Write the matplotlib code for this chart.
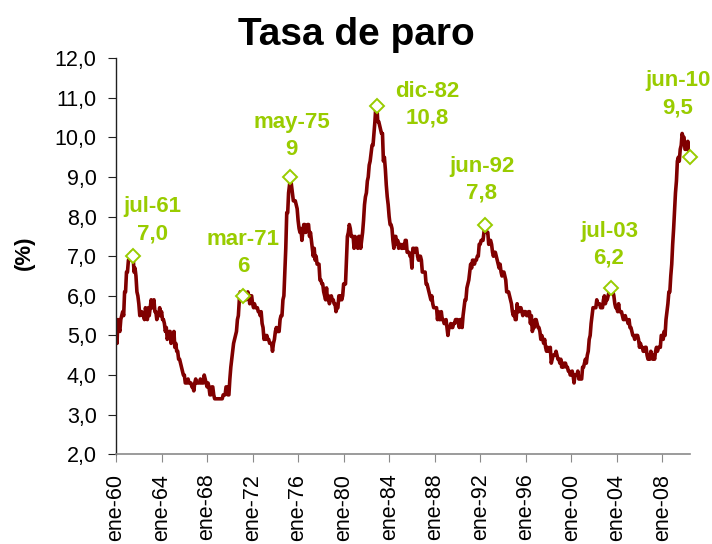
import matplotlib
matplotlib.use('Agg')
import matplotlib.pyplot as plt
import pandas as pd
from matplotlib.ticker import FixedLocator, FuncFormatter

plt.rcParams['font.family'] = ['Liberation Sans', 'DejaVu Sans']

# monthly unemployment rate (%), ene-60 .. jun-10, one row per year
rate = [
    5.2, 4.8, 5.4, 5.2, 5.1, 5.4, 5.5, 5.6, 5.5, 6.1, 6.1, 6.6,   # 1960
    6.6, 6.9, 6.9, 7.0, 7.1, 6.9, 7.0, 6.6, 6.7, 6.5, 6.1, 6.0,   # 1961
    5.8, 5.5, 5.6, 5.6, 5.5, 5.5, 5.4, 5.7, 5.6, 5.4, 5.7, 5.5,   # 1962
    5.7, 5.9, 5.7, 5.7, 5.9, 5.6, 5.6, 5.4, 5.5, 5.5, 5.7, 5.5,   # 1963
    5.6, 5.4, 5.4, 5.3, 5.1, 5.2, 4.9, 5.0, 5.1, 5.1, 4.8, 5.0,   # 1964
    4.9, 5.1, 4.7, 4.8, 4.6, 4.6, 4.4, 4.4, 4.3, 4.2, 4.1, 4.0,   # 1965
    4.0, 3.8, 3.8, 3.8, 3.9, 3.8, 3.8, 3.8, 3.7, 3.7, 3.6, 3.8,   # 1966
    3.9, 3.8, 3.8, 3.8, 3.8, 3.9, 3.8, 3.8, 3.8, 4.0, 3.9, 3.8,   # 1967
    3.7, 3.8, 3.7, 3.5, 3.5, 3.7, 3.7, 3.5, 3.4, 3.4, 3.4, 3.4,   # 1968
    3.4, 3.4, 3.4, 3.4, 3.4, 3.5, 3.5, 3.5, 3.7, 3.7, 3.5, 3.5,   # 1969
    3.9, 4.2, 4.4, 4.6, 4.8, 4.9, 5.0, 5.1, 5.4, 5.5, 5.9, 6.1,   # 1970
    5.9, 5.9, 6.0, 5.9, 5.9, 5.9, 6.0, 6.1, 6.0, 5.8, 6.0, 6.0,   # 1971
    5.8, 5.7, 5.8, 5.7, 5.7, 5.7, 5.6, 5.6, 5.5, 5.6, 5.3, 5.2,   # 1972
    4.9, 5.0, 4.9, 5.0, 4.9, 4.9, 4.8, 4.8, 4.8, 4.6, 4.8, 4.9,   # 1973
    5.1, 5.2, 5.1, 5.1, 5.1, 5.4, 5.5, 5.5, 5.9, 6.0, 6.6, 7.2,   # 1974
    8.1, 8.1, 8.6, 8.8, 9.0, 8.8, 8.6, 8.4, 8.4, 8.4, 8.3, 8.2,   # 1975
    7.9, 7.7, 7.6, 7.7, 7.4, 7.6, 7.8, 7.8, 7.6, 7.7, 7.8, 7.8,   # 1976
    7.5, 7.6, 7.4, 7.2, 7.0, 7.2, 6.9, 7.0, 6.8, 6.8, 6.8, 6.4,   # 1977
    6.4, 6.3, 6.3, 6.1, 6.0, 5.9, 6.2, 5.9, 6.0, 5.8, 5.9, 6.0,   # 1978
    5.9, 5.9, 5.8, 5.8, 5.6, 5.7, 5.7, 6.0, 5.9, 6.0, 5.9, 6.0,   # 1979
    6.3, 6.3, 6.3, 6.9, 7.5, 7.6, 7.8, 7.7, 7.5, 7.5, 7.5, 7.2,   # 1980
    7.5, 7.4, 7.4, 7.2, 7.5, 7.5, 7.2, 7.4, 7.6, 7.9, 8.3, 8.5,   # 1981
    8.6, 8.9, 9.0, 9.3, 9.4, 9.6, 9.8, 9.8, 10.1, 10.4, 10.8, 10.8,  # 1982
    10.4, 10.4, 10.3, 10.2, 10.1, 10.1, 9.4, 9.5, 9.2, 8.8, 8.5, 8.3,  # 1983
    8.0, 7.8, 7.8, 7.7, 7.4, 7.2, 7.5, 7.5, 7.3, 7.4, 7.2, 7.3,   # 1984
    7.3, 7.2, 7.2, 7.3, 7.2, 7.4, 7.4, 7.1, 7.1, 7.1, 7.0, 7.0,   # 1985
    6.7, 7.2, 7.2, 7.1, 7.2, 7.2, 7.0, 6.9, 7.0, 7.0, 6.9, 6.6,   # 1986
    6.6, 6.6, 6.6, 6.3, 6.3, 6.2, 6.1, 6.0, 5.9, 6.0, 5.8, 5.7,   # 1987
    5.7, 5.7, 5.7, 5.4, 5.6, 5.4, 5.4, 5.6, 5.4, 5.4, 5.3, 5.3,   # 1988
    5.4, 5.2, 5.0, 5.2, 5.2, 5.3, 5.2, 5.2, 5.3, 5.3, 5.4, 5.4,   # 1989
    5.4, 5.3, 5.2, 5.4, 5.4, 5.2, 5.5, 5.7, 5.9, 5.9, 6.2, 6.3,   # 1990
    6.4, 6.6, 6.8, 6.7, 6.9, 6.9, 6.8, 6.9, 6.9, 7.0, 7.0, 7.3,   # 1991
    7.3, 7.4, 7.4, 7.4, 7.6, 7.8, 7.7, 7.6, 7.6, 7.3, 7.4, 7.4,   # 1992
    7.3, 7.1, 7.0, 7.1, 7.1, 7.0, 6.9, 6.8, 6.7, 6.8, 6.6, 6.5,   # 1993
    6.6, 6.6, 6.5, 6.4, 6.1, 6.1, 6.1, 6.0, 5.9, 5.8, 5.6, 5.5,   # 1994
    5.6, 5.4, 5.4, 5.8, 5.6, 5.6, 5.7, 5.7, 5.6, 5.5, 5.6, 5.6,   # 1995
    5.6, 5.5, 5.5, 5.6, 5.6, 5.3, 5.5, 5.1, 5.2, 5.2, 5.4, 5.4,   # 1996
    5.3, 5.2, 5.2, 5.1, 4.9, 5.0, 4.9, 4.8, 4.9, 4.7, 4.6, 4.7,   # 1997
    4.6, 4.6, 4.7, 4.3, 4.4, 4.5, 4.5, 4.5, 4.6, 4.5, 4.4, 4.4,   # 1998
    4.3, 4.4, 4.2, 4.3, 4.2, 4.3, 4.3, 4.2, 4.2, 4.1, 4.1, 4.0,   # 1999
    4.0, 4.1, 4.0, 3.8, 4.0, 4.0, 4.0, 4.1, 3.9, 3.9, 3.9, 3.9,   # 2000
    4.2, 4.2, 4.3, 4.4, 4.3, 4.5, 4.6, 4.9, 5.0, 5.3, 5.5, 5.7,   # 2001
    5.7, 5.7, 5.7, 5.9, 5.8, 5.8, 5.8, 5.7, 5.7, 5.7, 5.9, 6.0,   # 2002
    5.8, 5.9, 5.9, 6.0, 6.1, 6.3, 6.2, 6.1, 6.1, 6.0, 5.8, 5.7,   # 2003
    5.7, 5.6, 5.8, 5.6, 5.6, 5.6, 5.5, 5.4, 5.4, 5.5, 5.4, 5.4,   # 2004
    5.3, 5.4, 5.2, 5.2, 5.1, 5.0, 5.0, 4.9, 5.0, 5.0, 5.0, 4.9,   # 2005
    4.7, 4.8, 4.7, 4.7, 4.6, 4.6, 4.7, 4.7, 4.5, 4.4, 4.5, 4.4,   # 2006
    4.6, 4.5, 4.4, 4.5, 4.4, 4.6, 4.7, 4.6, 4.7, 4.7, 4.7, 5.0,   # 2007
    5.0, 4.9, 5.1, 5.0, 5.4, 5.6, 5.8, 6.1, 6.1, 6.5, 6.8, 7.3,   # 2008
    7.7, 8.2, 8.6, 8.9, 9.4, 9.5, 9.4, 9.7, 9.8, 10.1, 10.0, 10.0,  # 2009
    9.7, 9.7, 9.7, 9.9, 9.7, 9.5,                                 # 2010
]

# highlighted values
peak_dates = ['1961-07', '1971-03', '1975-05', '1982-12', '1992-06', '2003-07', '2010-06']
peak_names = ['jul-61', 'mar-71', 'may-75', 'dic-82', 'jun-92', 'jul-03', 'jun-10']
peak_values = [7.0, 6.0, 9.0, 10.8, 7.8, 6.2, 9.5]
peak_text = ['7,0', '6', '9', '10,8', '7,8', '6,2', '9,5']

tick_years = list(range(1960, 2009, 4))
month_abbr = 'ene'

DARK_RED = '#800000'
GREEN = '#99CC00'

dates = pd.date_range('1960-01-01', periods=len(rate), freq='MS')

fig = plt.figure(figsize=(7.12, 5.44), dpi=100)
ax = fig.add_axes([0.163, 0.165, 0.806, 0.728])

ax.plot(dates, rate, color=DARK_RED, lw=2.6, solid_joinstyle='round')

# label offsets (pixels) from the marker to the centre of the text block
offsets = [(19, 36), (0, 43), (1, 41), (50, 1), (-3, 45), (-2, 43), (-12, 63)]
for d, name, v, t, off in zip(peak_dates, peak_names, peak_values, peak_text, offsets):
    x = pd.Timestamp(d + '-01')
    ax.plot([x], [v], marker='D', ms=7, mfc='white', mec=GREEN, mew=1.4,
            clip_on=False, zorder=5)
    ax.annotate(f'{name}\n{t}', (x, v), xytext=off, textcoords='offset pixels',
                ha='center', va='center', color=GREEN, fontsize=16,
                fontweight='bold', linespacing=1.35)

ax.set_ylim(2, 12)
ax.set_xlim(pd.Timestamp('1960-01-01'), pd.Timestamp('2010-06-08'))
ax.yaxis.set_major_locator(FixedLocator(range(2, 13)))
ax.yaxis.set_major_formatter(FuncFormatter(lambda v, p: f'{v:.1f}'.replace('.', ',')))

ticks = [pd.Timestamp(f'{y}-01-01') for y in tick_years]
ax.set_xticks(ticks)
ax.set_xticklabels([f'{month_abbr}-{y % 100:02d}' for y in tick_years],
                   rotation=90, fontsize=15.5)
ax.tick_params(axis='y', labelsize=15.5, length=6, pad=8, color='#202020')
ax.tick_params(axis='x', length=6, pad=8, color='#8a8a8a')

for s in ('top', 'right'):
    ax.spines[s].set_visible(False)
ax.spines['left'].set_color('#202020')
ax.spines['bottom'].set_color('#8a8a8a')
ax.spines['left'].set_linewidth(1.0)
ax.spines['bottom'].set_linewidth(1.2)

ax.set_ylabel('(%)', fontsize=16, fontweight='bold')
ax.yaxis.set_label_coords(-0.141, 0.51)

fig.text(0.5, 0.917, 'Tasa de paro', ha='center', va='baseline',
         fontsize=28, fontweight='bold')

fig.savefig('out.png', dpi=100)
